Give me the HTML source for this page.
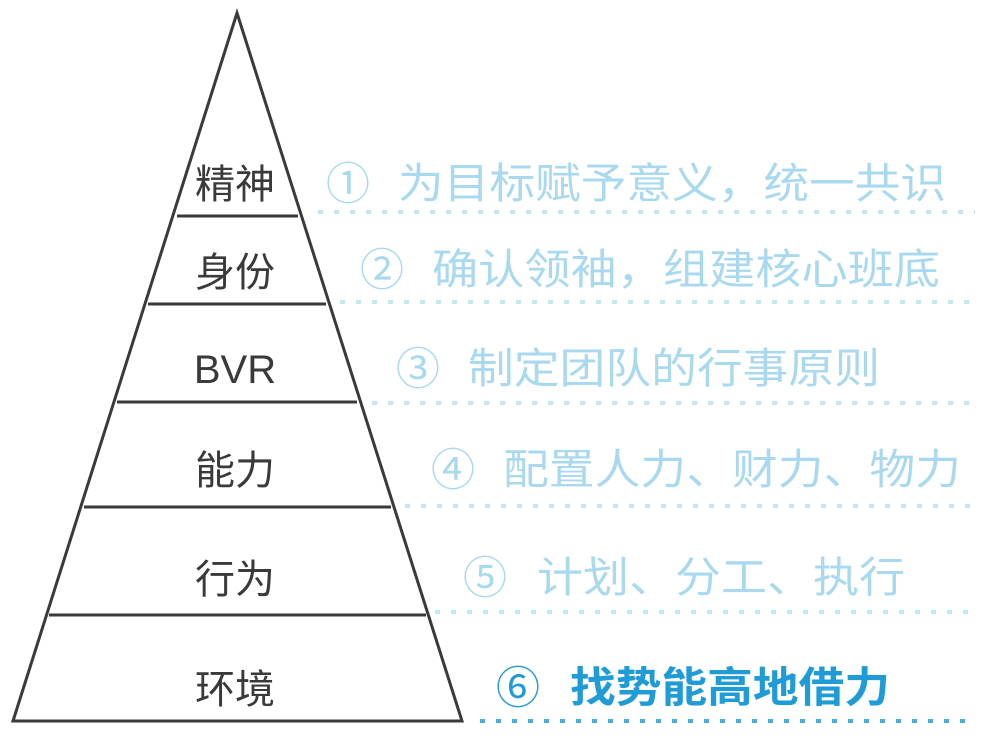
<!DOCTYPE html>
<html><head><meta charset="utf-8"><style>
html,body{margin:0;padding:0;background:#fff;}
svg{display:block}
text{font-family:"Liberation Sans","Noto Sans CJK SC",sans-serif;}
</style></head><body>
<svg width="1002" height="750" viewBox="0 0 1002 750" xmlns="http://www.w3.org/2000/svg">
<g stroke="#3a3a3a" stroke-width="3" fill="none">
<polygon points="237,13 13,721 462,721" stroke-linejoin="miter"/>
<line x1="177" y1="216" x2="298" y2="216"/>
<line x1="148" y1="304" x2="326" y2="304"/>
<line x1="117" y1="402" x2="357" y2="402"/>
<line x1="84" y1="507" x2="391" y2="507"/>
<line x1="49" y1="615" x2="426" y2="615"/>
</g>
<g fill="#3a3a3a" font-size="40" text-anchor="middle">
<text x="235" y="198">精神</text>
<text x="235" y="286">身份</text>
<text x="235" y="383">BVR</text>
<text x="235" y="484">能力</text>
<text x="235" y="593">行为</text>
<text x="235" y="703">环境</text>
</g>
<g stroke-width="4" stroke-dasharray="5 11" fill="none">
<line x1="318" y1="212" x2="975" y2="212" stroke="#c5e6f3"/>
<line x1="340" y1="302" x2="975" y2="302" stroke="#c5e6f3"/>
<line x1="372" y1="403" x2="975" y2="403" stroke="#c5e6f3"/>
<line x1="405" y1="506" x2="975" y2="506" stroke="#c5e6f3"/>
<line x1="435" y1="612" x2="975" y2="612" stroke="#c5e6f3"/>
<line x1="480" y1="721" x2="975" y2="721" stroke="#4aaedc"/>
</g>
<g fill="#a9d9ef" font-size="42">
<text x="326" y="199" font-size="44">①</text>
<text x="398" y="198" textLength="548" lengthAdjust="spacingAndGlyphs">为目标赋予意义，统一共识</text>
<text x="360" y="285" font-size="44">②</text>
<text x="432" y="284" textLength="508" lengthAdjust="spacingAndGlyphs">确认领袖，组建核心班底</text>
<text x="396" y="384" font-size="44">③</text>
<text x="468" y="383" textLength="412" lengthAdjust="spacingAndGlyphs">制定团队的行事原则</text>
<text x="431" y="485" font-size="44">④</text>
<text x="503" y="484" textLength="458" lengthAdjust="spacingAndGlyphs">配置人力、财力、物力</text>
<text x="463" y="593" font-size="44">⑤</text>
<text x="537" y="592" textLength="368" lengthAdjust="spacingAndGlyphs">计划、分工、执行</text>
</g>
<g fill="#1f9bd6" font-size="42" font-weight="bold">
<text x="496" y="703" font-size="44" font-weight="normal">⑥</text>
<text x="570" y="702" textLength="320" lengthAdjust="spacingAndGlyphs">找势能高地借力</text>
</g>
</svg>
</body></html>
